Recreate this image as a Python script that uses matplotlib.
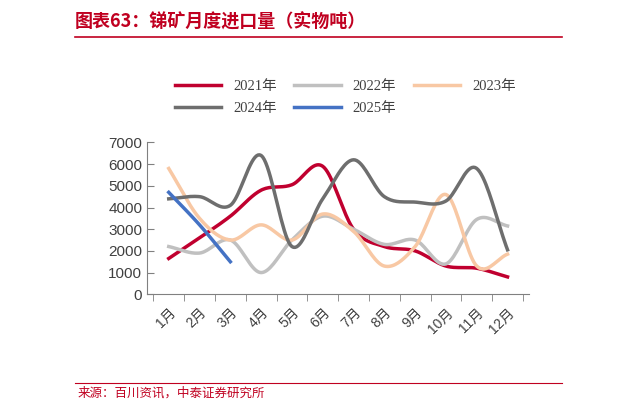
import numpy as np
import matplotlib
matplotlib.use("Agg")
import matplotlib.pyplot as plt

plt.rcParams['font.family'] = ['Noto Sans CJK SC', 'DejaVu Sans']

months = ['1月','2月','3月','4月','5月','6月','7月','8月','9月','10月','11月','12月']
y2021 = [1650, 2600, 3600, 4800, 5050, 5900, 3000, 2200, 2000, 1300, 1200, 800]
y2022 = [2200, 1900, 2500, 1000, 2500, 3600, 3000, 2300, 2500, 1400, 3450, 3150]
y2023 = [5800, 3500, 2500, 3200, 2500, 3700, 2900, 1300, 2200, 4600, 1300, 1850]
y2024 = [4400, 4500, 4100, 6400, 2200, 4400, 6200, 4500, 4250, 4300, 5800, 2050]
y2025 = [4700, 3200, 1500]

def smooth(y, n=20):
    y = np.asarray(y, float)
    k = len(y)
    p = np.concatenate([[2*y[0]-y[1]], y, [2*y[-1]-y[-2]]])
    xs, ys = [], []
    for i in range(k-1):
        p0, p1, p2, p3 = p[i], p[i+1], p[i+2], p[i+3]
        t = np.linspace(0, 1, n, endpoint=False)
        v = 0.5*((2*p1) + (-p0+p2)*t + (2*p0-5*p1+4*p2-p3)*t**2 + (-p0+3*p1-3*p2+p3)*t**3)
        xs.append(i + t); ys.append(v)
    xs.append([k-1]); ys.append([y[-1]])
    return np.concatenate(xs), np.concatenate(ys)

fig = plt.figure(figsize=(6.21, 4.07), dpi=100)
fig.text(0.12, 0.945, '图表63：锑矿月度进口量（实物吨）', color='#C00020', fontsize=13,
         fontweight='bold', style='italic', ha='left', va='center')
fig.add_artist(plt.Line2D([0.12, 0.905], [0.91, 0.91], color='#C00020', lw=1.2))
fig.add_artist(plt.Line2D([0.12, 0.905], [0.06, 0.06], color='#C00020', lw=0.8))
fig.text(0.125, 0.035, '来源：百川资讯，中泰证券研究所', color='#C00020', fontsize=9, va='center')

ax = fig.add_axes([0.237, 0.277, 0.615, 0.373])
series = [('2021年', y2021, '#C0002F'), ('2022年', y2022, '#C0C0C0'),
          ('2023年', y2023, '#F8C8A4'), ('2024年', y2024, '#6E6E6E'),
          ('2025年', y2025, '#4472C4')]
handles = {}
for name, y, c in series:
    xs, ys = smooth(y)
    h, = ax.plot(xs, ys, color=c, lw=2.5, label=name)
    handles[name] = h
ax.set_xlim(-0.7, 11.7)
ax.set_ylim(0, 7000)
ax.set_yticks(range(0, 7001, 1000))
ax.set_xticks(range(12))
ax.set_xticklabels(months, rotation=45, ha='right', va='top', rotation_mode='anchor',
                   family=['Liberation Sans', 'Noto Sans CJK SC'])
for lab in ax.get_yticklabels():
    lab.set_family(['Liberation Sans'])
ax.set_xticks(np.arange(-0.5, 12, 1), minor=True)
ax.tick_params(axis='x', which='major', length=0, labelsize=10, colors='#404040', pad=8)
ax.tick_params(axis='x', which='minor', length=5, color='#808080')
ax.tick_params(axis='y', length=5, color='#808080', labelsize=11, colors='#404040', direction='in')
for s in ['top', 'right']:
    ax.spines[s].set_visible(False)
for s in ['left', 'bottom']:
    ax.spines[s].set_color('#808080')
order = ['2021年', '2024年', '2022年', '2025年', '2023年']
fig.legend(handles=[handles[k] for k in order], labels=order, ncol=3, frameon=False, loc='upper left',
           bbox_to_anchor=(0.26, 0.835), fontsize=10.5, handlelength=3.2,
           columnspacing=1.2, labelspacing=0.6, labelcolor='#404040',
           prop={'family': ['Liberation Serif', 'Noto Sans CJK SC'], 'size': 10.5})
fig.savefig('out.png', dpi=100)
